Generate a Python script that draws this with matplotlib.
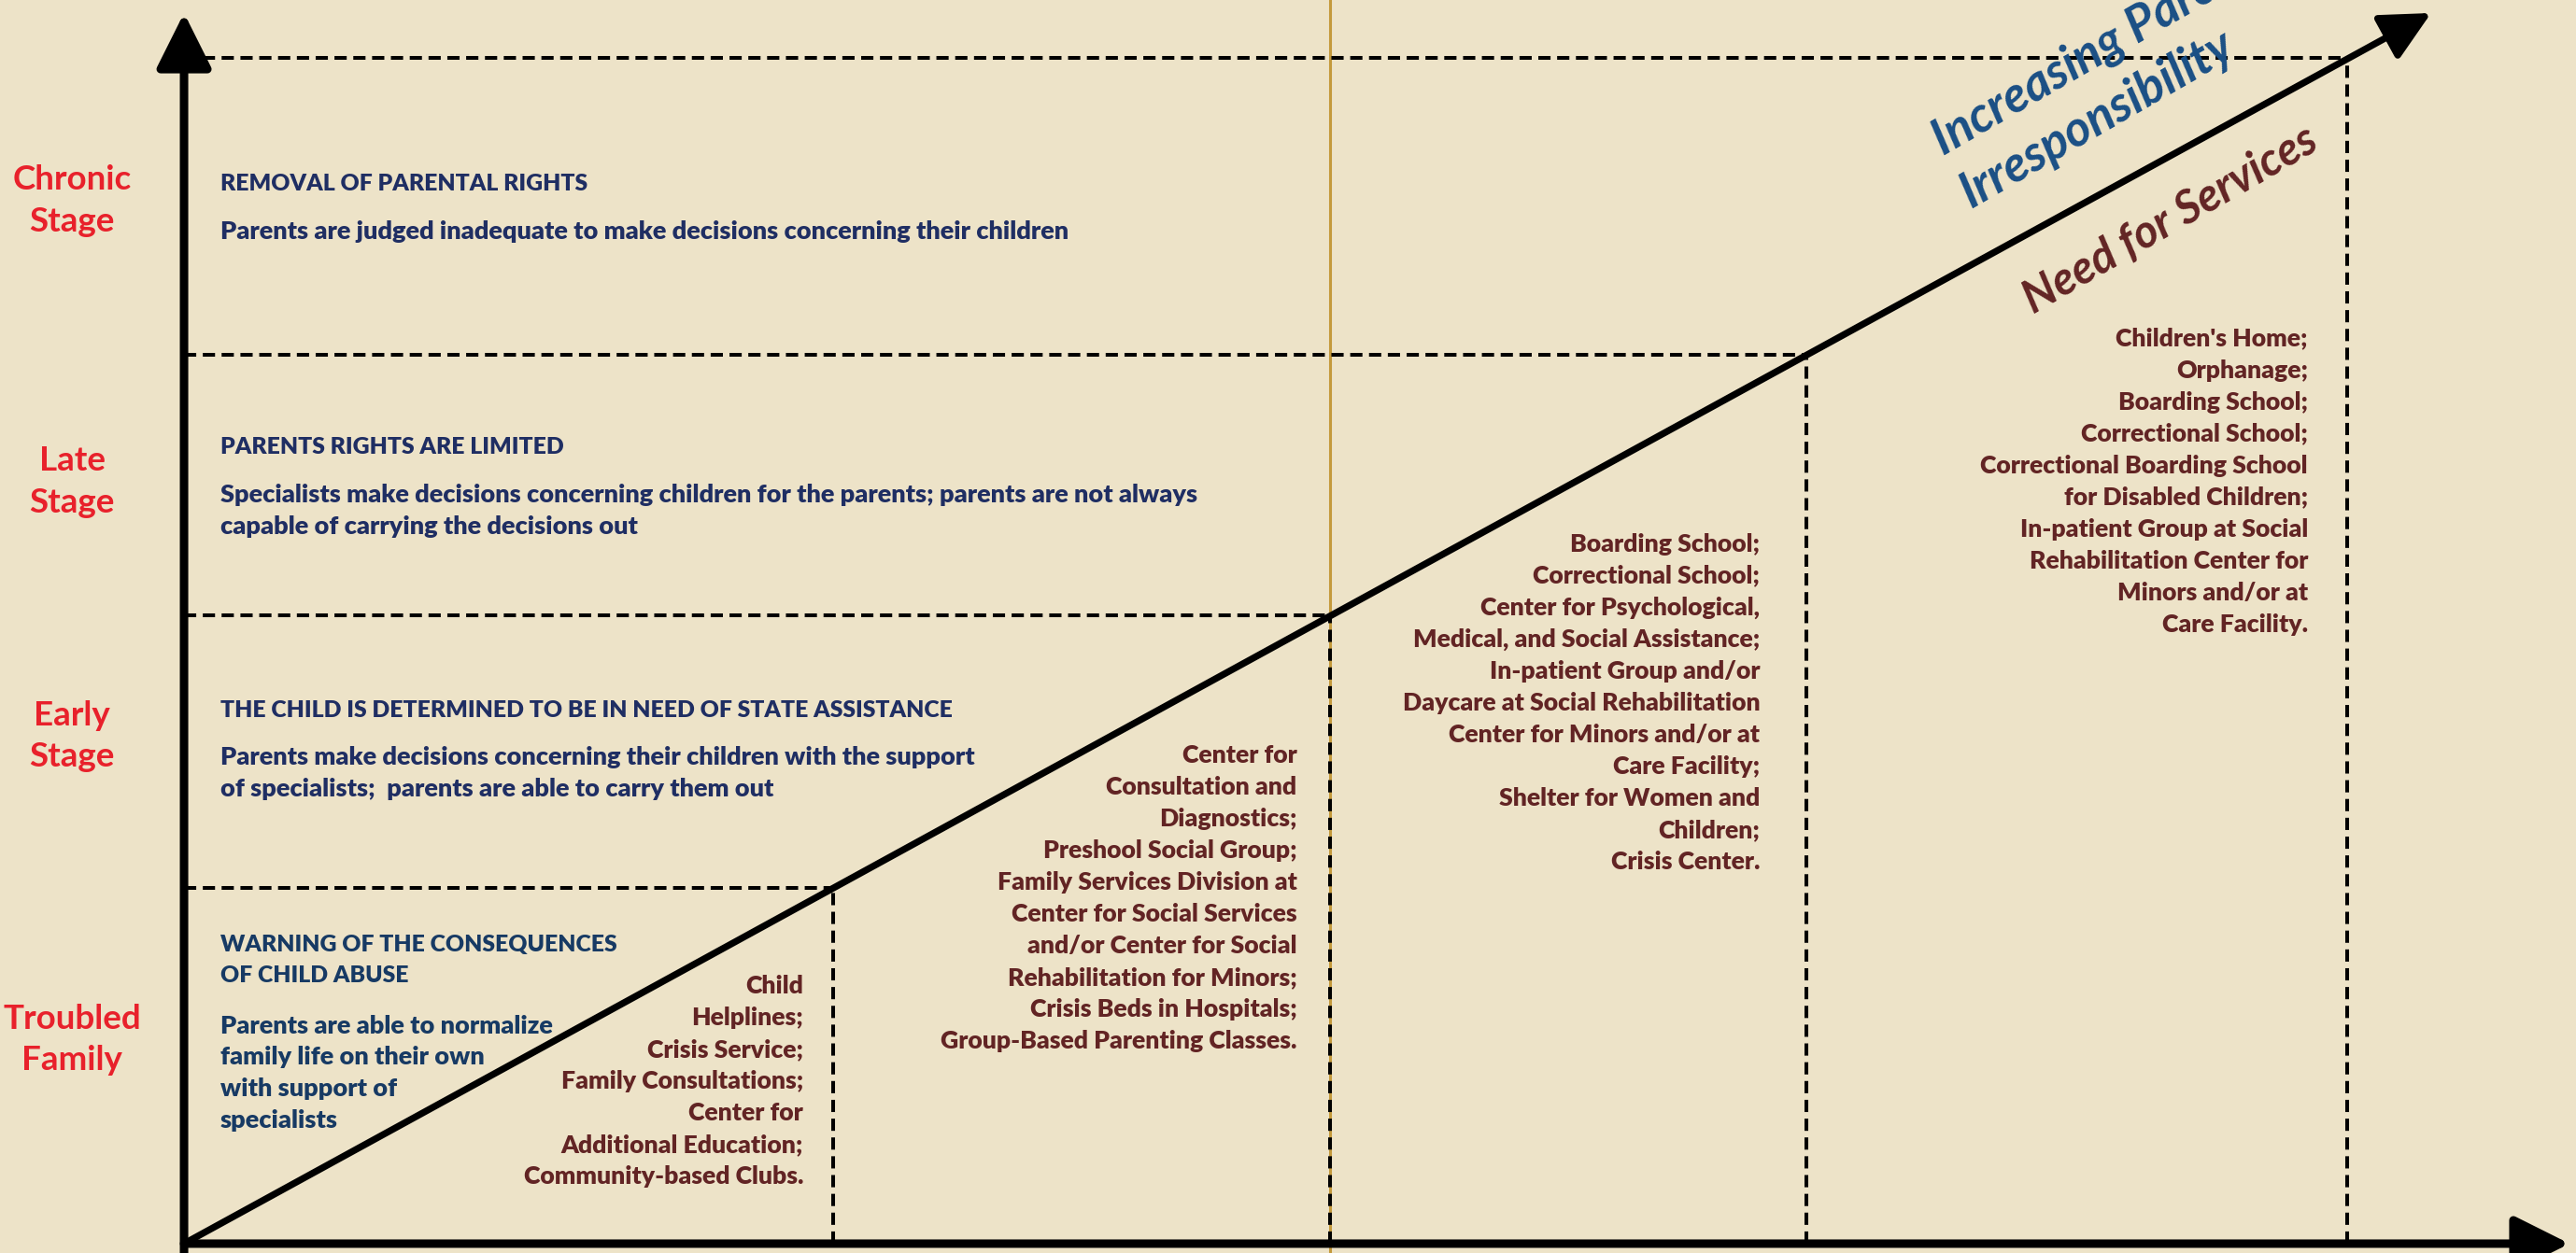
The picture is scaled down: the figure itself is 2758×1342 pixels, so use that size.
import matplotlib
matplotlib.use("Agg")
import matplotlib.pyplot as plt

# ---------------- data ----------------
stage_labels = ["Troubled\nFamily", "Early\nStage", "Late\nStage", "Chronic\nStage"]
stage_bounds = [30, 53, 75, 100]          # need index at top of each stage
headings = [
    "WARNING OF THE CONSEQUENCES\nOF CHILD ABUSE",
    "THE CHILD IS DETERMINED TO BE IN NEED OF STATE ASSISTANCE",
    "PARENTS RIGHTS ARE LIMITED",
    "REMOVAL OF PARENTAL RIGHTS",
]
descriptions = [
    "Parents are able to normalize\nfamily life on their own\nwith support of\nspecialists",
    "Parents make decisions concerning their children with the support\nof specialists;  parents are able to carry them out",
    "Specialists make decisions concerning children for the parents; parents are not always\ncapable of carrying the decisions out",
    "Parents are judged inadequate to make decisions concerning their children",
]
services = [
    "Child\nHelplines;\nCrisis Service;\nFamily Consultations;\nCenter for\nAdditional Education;\nCommunity-based Clubs.",
    "Center for\nConsultation and\nDiagnostics;\nPreshool Social Group;\nFamily Services Division at\nCenter for Social Services\nand/or Center for Social\nRehabilitation for Minors;\nCrisis Beds in Hospitals;\nGroup-Based Parenting Classes.",
    "Boarding School;\nCorrectional School;\nCenter for Psychological,\nMedical, and Social Assistance;\nIn-patient Group and/or\nDaycare at Social Rehabilitation\nCenter for Minors and/or at\nCare Facility;\nShelter for Women and\nChildren;\nCrisis Center.",
    "Children's Home;\nOrphanage;\nBoarding School;\nCorrectional School;\nCorrectional Boarding School\nfor Disabled Children;\nIn-patient Group at Social\nRehabilitation Center for\nMinors and/or at\nCare Facility.",
]
diag_title_lines = ["Increasing Parental", "Irresponsibility"]
need_title = "Need for Services"

# ---------------- layout / style ----------------
BG = "#EDE3C8"
RED = "#E8212B"
NAVY = "#1F2E63"
NAVY2 = "#173A64"
MAROON = "#622424"
BLUE = "#1A4F85"
GOLD = "#C49A3C"
FONT = "Lato"
W = 800

stage_label_y = [17.2, 42.8, 64.25, 87.95]
heading_y = [23.9, 45.0, 67.2, 89.4]
desc_y = [14.4, 39.7, 61.8, 85.4]
service_x = [28.64, 51.45, 72.87, 98.2]
service_y = [13.7, 29.1, 45.6, 64.3]
diag_line_pos = [(81.34, 91.73), (82.64, 87.32)]

fig = plt.figure(figsize=(27.58, 13.42), dpi=100, facecolor=BG)
ax = fig.add_axes([0, 0, 1, 1])
ax.set_facecolor(BG)
ax.set_xlim(-8.51, 110.6)
ax.set_ylim(-0.79, 104.9)
ax.axis("off")

dash = (0, (3.25, 1.75))

# gold vertical guide at the middle boundary
ax.plot([stage_bounds[1], stage_bounds[1]], [-0.79, 104.9], color=GOLD, lw=2.2, zorder=1)

# dashed guides
for b in stage_bounds:
    ax.plot([0, b], [b, b], color="black", lw=2.9, linestyle=dash, zorder=2)
    ax.plot([b, b], [0, b], color="black", lw=2.9, linestyle=dash, zorder=2)

# axes arrows
arrow_kw = dict(arrowstyle="-|>,head_length=0.9,head_width=0.45", color="black",
                shrinkA=0, shrinkB=0)
ax.annotate("", xy=(0, 103.8), xytext=(0, -0.79),
            arrowprops=dict(lw=6.5, mutation_scale=40, **arrow_kw), zorder=5)
ax.annotate("", xy=(110.3, 0), xytext=(0, 0),
            arrowprops=dict(lw=6.5, mutation_scale=40, **arrow_kw), zorder=5)
ax.annotate("", xy=(103.9, 103.8), xytext=(0, 0),
            arrowprops=dict(lw=5.2, mutation_scale=36, **arrow_kw), zorder=5)

# stage labels
for lab, y in zip(stage_labels, stage_label_y):
    ax.text(-5.18, y, lab, color=RED, fontsize=26.5, fontweight="bold", family=FONT,
            ha="center", va="center", linespacing=1.43)

# headings and descriptions
for i, (h, d) in enumerate(zip(headings, descriptions)):
    c = NAVY2 if i == 0 else NAVY
    ax.text(1.68, heading_y[i], h, color=c, fontsize=17.8, fontweight=W, family=FONT,
            ha="left", va="center", linespacing=1.62)
    ax.text(1.68, desc_y[i], d, color=c, fontsize=19.5, fontweight=W, family=FONT,
            ha="left", va="center", linespacing=1.48)

# services
for s, x, y in zip(services, service_x, service_y):
    ax.text(x, y, s, color=MAROON, fontsize=19.2, fontweight=W, family=FONT,
            ha="right", va="center", linespacing=1.5)

# rotated titles
for line, (x, y) in zip(diag_title_lines, diag_line_pos):
    ax.text(x, y, line, color=BLUE, fontsize=38, fontweight="bold", style="italic",
            family=FONT, ha="left", va="baseline", rotation=30, rotation_mode="anchor")
ax.text(91.84, 86.4, need_title, color=MAROON, fontsize=35, fontweight="bold", style="italic",
        family=FONT, ha="center", va="center", rotation=30, rotation_mode="anchor")

fig.savefig("out.png", dpi=100, facecolor=BG)
